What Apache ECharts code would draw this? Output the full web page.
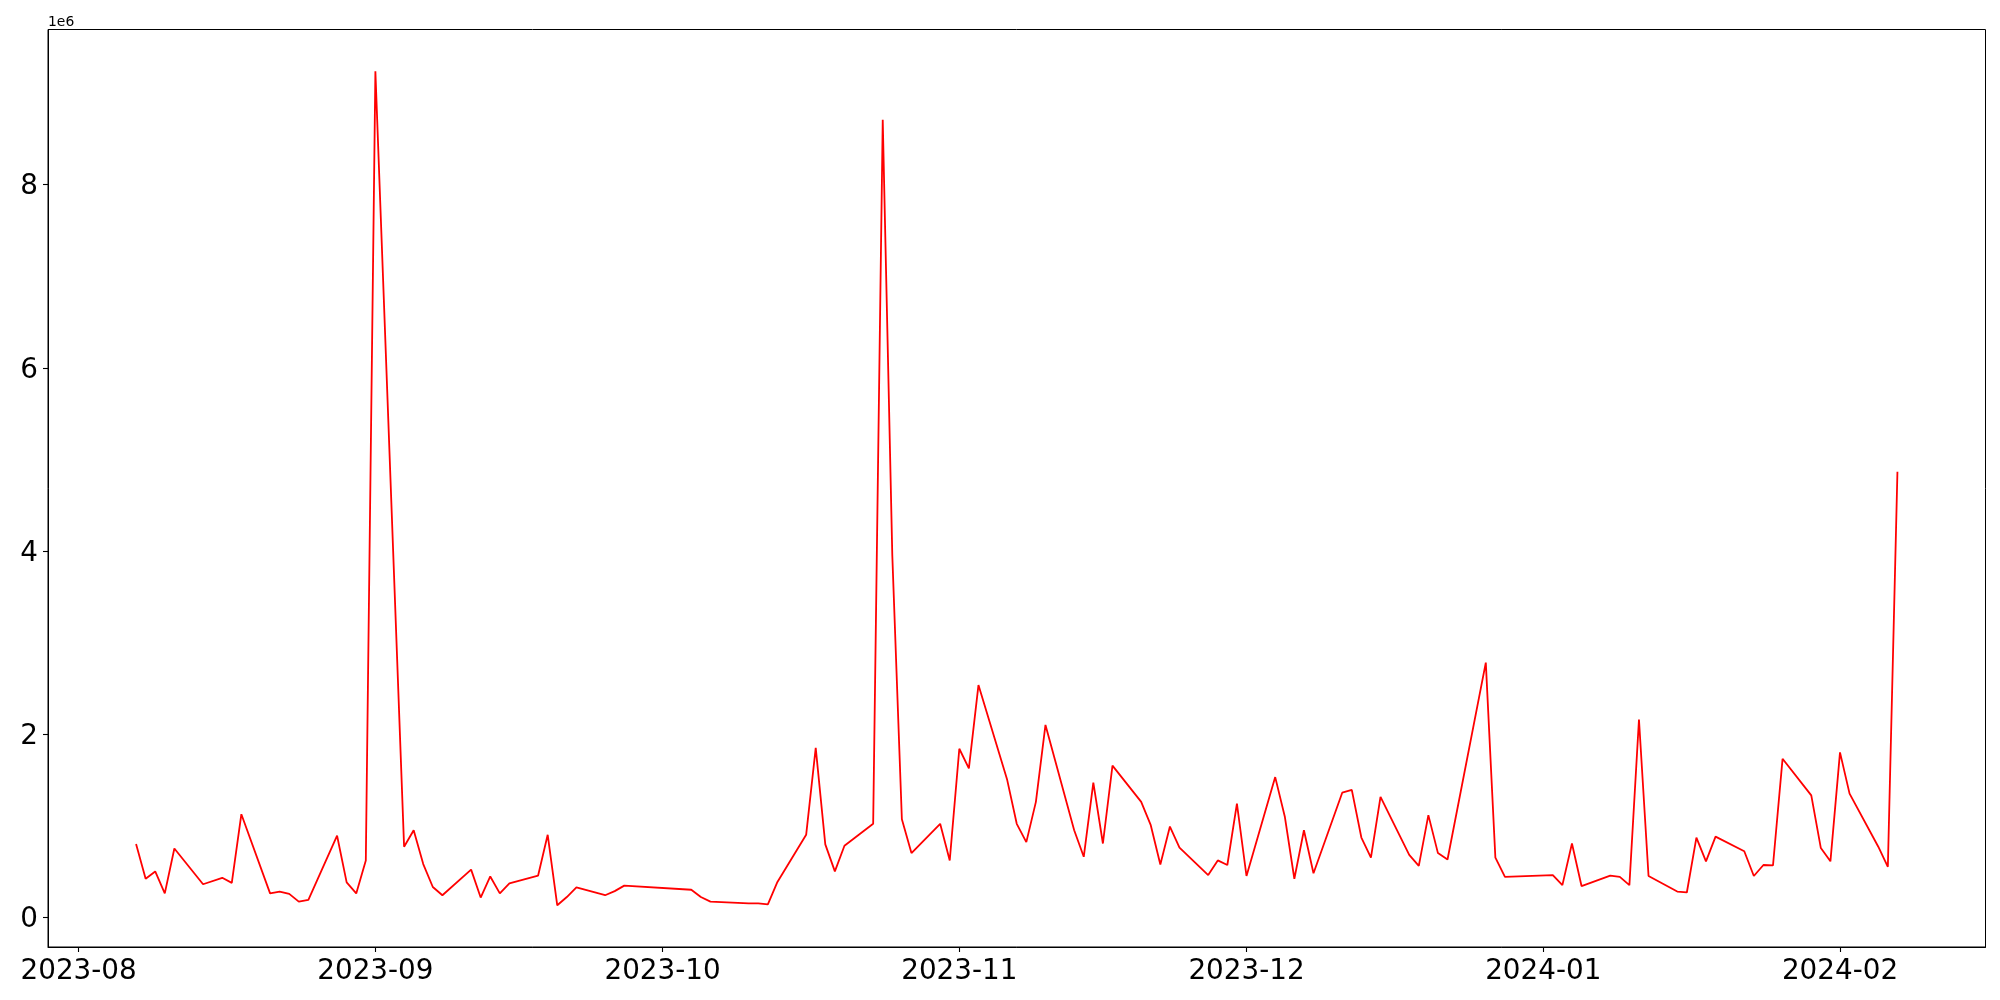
<!DOCTYPE html>
<html>
<head>
<meta charset="utf-8">
<script src="https://cdn.jsdelivr.net/npm/echarts@6/dist/echarts.min.js"></script>
<style>
  html, body { margin: 0; padding: 0; background: #fff; }
  #chart { width: 2000px; height: 1000px; }
</style>
</head>
<body>
<div id="chart"></div>
<script>
const dates = [
  '2023-08-07','2023-08-08','2023-08-09','2023-08-10','2023-08-11',
  '2023-08-14','2023-08-16','2023-08-17','2023-08-18',
  '2023-08-21','2023-08-22','2023-08-23','2023-08-24','2023-08-25',
  '2023-08-28','2023-08-29','2023-08-30','2023-08-31','2023-09-01',
  '2023-09-04','2023-09-05','2023-09-06','2023-09-07','2023-09-08',
  '2023-09-11','2023-09-12','2023-09-13','2023-09-14','2023-09-15',
  '2023-09-18','2023-09-19','2023-09-20','2023-09-21','2023-09-22',
  '2023-09-25','2023-09-26','2023-09-27',
  '2023-10-04','2023-10-05','2023-10-06',
  '2023-10-10','2023-10-11','2023-10-12','2023-10-13',
  '2023-10-16','2023-10-17','2023-10-18','2023-10-19','2023-10-20',
  '2023-10-23','2023-10-24','2023-10-25','2023-10-26','2023-10-27',
  '2023-10-30','2023-10-31','2023-11-01','2023-11-02','2023-11-03',
  '2023-11-06','2023-11-07','2023-11-08','2023-11-09','2023-11-10',
  '2023-11-13','2023-11-14','2023-11-15','2023-11-16','2023-11-17',
  '2023-11-20','2023-11-21','2023-11-22','2023-11-23','2023-11-24',
  '2023-11-27','2023-11-28','2023-11-29','2023-11-30','2023-12-01',
  '2023-12-04','2023-12-05','2023-12-06','2023-12-07','2023-12-08',
  '2023-12-11','2023-12-12','2023-12-13','2023-12-14','2023-12-15',
  '2023-12-18','2023-12-19','2023-12-20','2023-12-21','2023-12-22',
  '2023-12-26','2023-12-27','2023-12-28',
  '2024-01-02','2024-01-03','2024-01-04','2024-01-05',
  '2024-01-08','2024-01-09','2024-01-10','2024-01-11','2024-01-12',
  '2024-01-15','2024-01-16','2024-01-17','2024-01-18','2024-01-19',
  '2024-01-22','2024-01-23','2024-01-24','2024-01-25','2024-01-26',
  '2024-01-29','2024-01-30','2024-01-31','2024-02-01','2024-02-02',
  '2024-02-05','2024-02-06','2024-02-07'
];
const values = [
  800000, 420000, 500000, 260000, 750000,
  360000, 430000, 375000, 1125000,
  260000, 280000, 255000, 170000, 190000,
  890000, 380000, 260000, 620000, 9240000,
  770000, 950000, 580000, 330000, 240000,
  520000, 215000, 445000, 260000, 370000,
  455000, 900000, 130000, 220000, 325000,
  240000, 285000, 345000,
  300000, 220000, 170000,
  150000, 150000, 140000, 385000,
  900000, 1850000, 795000, 500000, 780000,
  1020000, 8710000, 3950000, 1070000, 700000,
  1020000, 620000, 1840000, 1625000, 2535000,
  1500000, 1020000, 820000, 1260000, 2100000,
  950000, 660000, 1470000, 805000, 1655000,
  1260000, 1005000, 575000, 990000, 760000,
  460000, 620000, 570000, 1240000, 450000,
  1530000, 1100000, 420000, 950000, 480000,
  1360000, 1390000, 870000, 650000, 1315000,
  680000, 560000, 1115000, 700000, 630000,
  2780000, 650000, 440000,
  460000, 350000, 805000, 340000,
  455000, 440000, 350000, 2160000, 450000,
  280000, 270000, 870000, 610000, 880000,
  720000, 450000, 570000, 565000, 1730000,
  1330000, 755000, 610000, 1800000, 1350000,
  770000, 550000, 4865000
];
const xTickLabels = ['2023-08','2023-09','2023-10','2023-11','2023-12','2024-01','2024-02'];
const yTickValues = [0, 2000000, 4000000, 6000000, 8000000];
const yScaleText = '1e6';

function toTs(s) {
  const p = s.split('-').map(Number);
  return Date.UTC(p[0], p[1] - 1, p.length > 2 ? p[2] : 1);
}
const seriesData = dates.map((d, i) => [toTs(d), values[i]]);
const xTicks = xTickLabels.map(toTs);
const xLabelMap = {};
xTickLabels.forEach((s, i) => { xLabelMap[xTicks[i]] = s; });

const t0 = seriesData[0][0], t1 = seriesData[seriesData.length - 1][0];
const xr = t1 - t0;
const vMin = Math.min(...values), vMax = Math.max(...values);
const yr = vMax - vMin;

const FONT = 'DejaVu Sans';
const chart = echarts.init(document.getElementById('chart'), null, { renderer: 'canvas' });
chart.setOption({
  animation: false,
  backgroundColor: '#ffffff',
  grid: {
    left: 48, right: 14.5, top: 29.5, bottom: 53,
    show: true, borderColor: '#000', borderWidth: 1,
    containLabel: false, outerBoundsMode: 'none'
  },
  graphic: [{
    type: 'text', left: 48, top: 15,
    style: { text: yScaleText, fontFamily: FONT, fontSize: 13.9, fill: '#000' }
  }],
  xAxis: {
    type: 'value',
    min: t0 - 0.05 * xr,
    max: t1 + 0.05 * xr,
    axisLine: { show: true, onZero: false, lineStyle: { color: '#000', width: 1 } },
    axisTick: { show: true, customValues: xTicks, length: 5, inside: false, lineStyle: { color: '#000', width: 1.1 } },
    axisLabel: {
      customValues: xTicks,
      margin: 10.5,
      color: '#000', fontFamily: FONT, fontSize: 27.8,
      showMinLabel: true, showMaxLabel: true,
      formatter: function (v) { return xLabelMap[v] !== undefined ? xLabelMap[v] : ''; }
    },
    splitLine: { show: false }
  },
  yAxis: {
    type: 'value',
    min: vMin - 0.05 * yr,
    max: vMax + 0.05 * yr,
    axisLine: { show: true, onZero: false, lineStyle: { color: '#000', width: 1 } },
    axisTick: { show: true, customValues: yTickValues, length: 5, inside: false, lineStyle: { color: '#000', width: 1.1 } },
    axisLabel: {
      customValues: yTickValues,
      margin: 10,
      verticalAlign: 'top',
      lineHeight: 5,
      color: '#000', fontFamily: FONT, fontSize: 27.8,
      formatter: function (v) { return String(Math.round(v / 1e6)); }
    },
    splitLine: { show: false }
  },
  series: [{
    type: 'line',
    data: seriesData,
    showSymbol: false,
    symbol: 'none',
    lineStyle: { color: '#ff0000', width: 1.8 },
    emphasis: { disabled: true }
  }]
});
</script>
</body>
</html>
